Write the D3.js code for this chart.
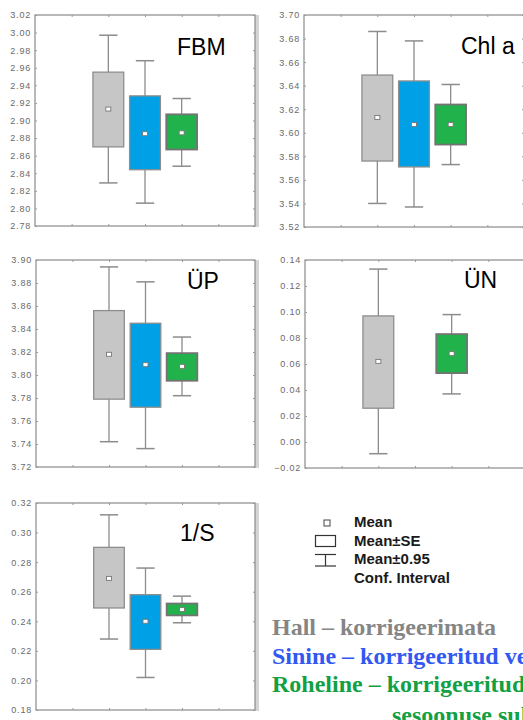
<!DOCTYPE html>
<html>
<head>
<meta charset="utf-8">
<script src="https://cdn.jsdelivr.net/npm/d3@7"></script>
<style>
  body { margin: 0; background: #fff; }
  svg { display: block; }
</style>
</head>
<body>
<svg width="523" height="720"></svg>
<script>
// groups: gray = uncorrected, blue = corrected, green = corrected + seasonality
const groups = ['Hall', 'Sinine', 'Roheline']
const groupColors = ['#c6c6c6', '#00a0e6', '#22b24c']

const panelNames = ['FBM', 'Chl a', 'ÜP', 'ÜN', '1/S']

// mean, mean±SE, mean±0.95 CI  (per group)
const fbmMean = [2.913, 2.885, 2.886]
const fbmSE = [[2.870, 2.955], [2.844, 2.928], [2.867, 2.907]]
const fbmCI = [[2.829, 2.997], [2.806, 2.968], [2.848, 2.925]]

const chlMean = [3.613, 3.607, 3.607]
const chlSE = [[3.576, 3.649], [3.571, 3.644], [3.590, 3.624]]
const chlCI = [[3.540, 3.686], [3.537, 3.678], [3.573, 3.641]]

const upMean = [3.818, 3.809, 3.8075]
const upSE = [[3.779, 3.856], [3.772, 3.845], [3.795, 3.819]]
const upCI = [[3.742, 3.894], [3.736, 3.881], [3.782, 3.833]]

const unMean = [0.062, null, 0.068]
const unSE = [[0.026, 0.097], null, [0.053, 0.083]]
const unCI = [[-0.009, 0.133], null, [0.037, 0.098]]

const sMean = [0.269, 0.240, 0.248]
const sSE = [[0.249, 0.290], [0.221, 0.258], [0.244, 0.252]]
const sCI = [[0.228, 0.312], [0.202, 0.276], [0.239, 0.257]]

// y tick labels
const fbmTicks = [2.78, 2.80, 2.82, 2.84, 2.86, 2.88, 2.90, 2.92, 2.94, 2.96, 2.98, 3.00, 3.02]
const chlTicks = [3.52, 3.54, 3.56, 3.58, 3.60, 3.62, 3.64, 3.66, 3.68, 3.70]
const upTicks = [3.72, 3.74, 3.76, 3.78, 3.80, 3.82, 3.84, 3.86, 3.88, 3.90]
const unTicks = [-0.02, 0.00, 0.02, 0.04, 0.06, 0.08, 0.10, 0.12, 0.14]
const sTicks = [0.18, 0.20, 0.22, 0.24, 0.26, 0.28, 0.30, 0.32]

const legendLabels = ['Mean', 'Mean±SE', 'Mean±0.95', 'Conf. Interval']
const noteLines = [
    { text: 'Hall – korrigeerimata', color: '#858585' },
    { text: 'Sinine – korrigeeritud veetaseme suhtes', color: '#3158f0' },
    { text: 'Roheline – korrigeeritud veetaseme ja', color: '#12a043' },
]
const noteTail = 'sesoonuse suhtes'

const panels = [
    { name: panelNames[0], mean: fbmMean, se: fbmSE, ci: fbmCI, ticks: fbmTicks },
    { name: panelNames[1], mean: chlMean, se: chlSE, ci: chlCI, ticks: chlTicks },
    { name: panelNames[2], mean: upMean, se: upSE, ci: upCI, ticks: upTicks },
    { name: panelNames[3], mean: unMean, se: unSE, ci: unCI, ticks: unTicks },
    { name: panelNames[4], mean: sMean, se: sSE, ci: sCI, ticks: sTicks },
]

// frame placement of each panel
const layout = [
    { x: 35, y: 15, w: 220, h: 211, tx: 142, ty: 40 },
    { x: 304, y: 15, w: 220, h: 212, tx: 157, ty: 39 },
    { x: 36, y: 260, w: 219, h: 207, tx: 151, ty: 29 },
    { x: 305, y: 260, w: 220, h: 208, tx: 159, ty: 28 },
    { x: 36, y: 503, w: 219, h: 207, tx: 144, ty: 38 },
]

const svg = d3.select('svg')
const fmt = d3.format('.2f')

panels.forEach((p, k) => {
    const L = layout[k]
    const g = svg.append('g').attr('transform', `translate(${L.x}, ${L.y})`)

    const x = d3.scaleLinear().domain([0, 6]).range([0, L.w])
    const y = d3.scaleLinear().domain(d3.extent(p.ticks)).range([L.h, 0])

    // shadow on the right
    g.append('rect')
        .attr('x', L.w)
        .attr('y', 0)
        .attr('width', 4)
        .attr('height', L.h + 1)
        .attr('fill', '#d4d4d4')

    g.append('rect')
        .attr('width', L.w)
        .attr('height', L.h)
        .attr('fill', '#fff')
        .attr('stroke', '#8a8a8a')
        .attr('stroke-width', 1.2)

    const yAxis = d3.axisLeft(y)
        .tickValues(p.ticks)
        .tickFormat(fmt)
        .tickSizeInner(-2)
        .tickSizeOuter(0)
        .tickPadding(4)

    const ya = g.append('g').call(yAxis)
    ya.select('.domain').remove()
    ya.selectAll('line').attr('stroke', '#999')
    ya.selectAll('text')
        .attr('fill', '#6a6a6a')
        .style('font-family', '"Liberation Sans", Arial, sans-serif')
        .style('font-size', '9px')
        .style('letter-spacing', '0.8px')

    const xTicks = [1, 2, 3, 4, 5]
    const top = g.append('g').call(d3.axisTop(x).tickValues(xTicks).tickSize(-2).tickFormat(''))
    const bot = g.append('g').attr('transform', `translate(0, ${L.h})`)
        .call(d3.axisBottom(x).tickValues(xTicks).tickSize(-2).tickFormat(''))
    top.select('.domain').remove()
    bot.select('.domain').remove()
    g.selectAll('.tick line').attr('stroke', '#999')

    const rightAxis = g.append('g').attr('transform', `translate(${L.w}, 0)`)
        .call(d3.axisRight(y).tickValues(p.ticks).tickSize(-2).tickFormat(''))
    rightAxis.select('.domain').remove()
    rightAxis.selectAll('line').attr('stroke', '#999')

    const boxW = x(0.84) - x(0)
    const capW = x(0.5) - x(0)

    groups.forEach((grp, i) => {
        if (p.mean[i] == null) return
        const cx = x(i + 2)
        const b = g.append('g').attr('class', 'box')

        // whisker
        b.append('line')
            .attr('x1', cx).attr('x2', cx)
            .attr('y1', y(p.ci[i][1])).attr('y2', y(p.ci[i][0]))
            .attr('stroke', '#8c8c8c').attr('stroke-width', 1.3)
        ;[0, 1].forEach((j) => {
            b.append('line')
                .attr('x1', cx - capW / 2).attr('x2', cx + capW / 2)
                .attr('y1', y(p.ci[i][j])).attr('y2', y(p.ci[i][j]))
                .attr('stroke', '#8c8c8c').attr('stroke-width', 1.5)
        })

        b.append('rect')
            .attr('x', cx - boxW / 2)
            .attr('y', y(p.se[i][1]))
            .attr('width', boxW)
            .attr('height', y(p.se[i][0]) - y(p.se[i][1]))
            .attr('fill', groupColors[i])
            .attr('stroke', i === 2 ? '#737373' : '#8e8e8e')
            .attr('stroke-width', i === 2 ? 1.8 : 1.3)

        b.append('rect')
            .attr('x', cx - 2.5)
            .attr('y', y(p.mean[i]) - 2)
            .attr('width', 5)
            .attr('height', 4)
            .attr('fill', '#fff')
            .attr('stroke', '#777')
            .attr('stroke-width', 0.9)
    })

    g.append('text')
        .attr('x', L.tx)
        .attr('y', L.ty)
        .text(p.name)
        .style('font-family', '"Liberation Sans", Arial, sans-serif')
        .style('font-size', '23px')
        .attr('fill', '#000')
})

// legend
const lg = svg.append('g')
lg.append('rect').attr('x', 324).attr('y', 520).attr('width', 6).attr('height', 6)
    .attr('fill', '#fff').attr('stroke', '#444').attr('stroke-width', 1)
lg.append('rect').attr('x', 315.5).attr('y', 535.5).attr('width', 20).attr('height', 11)
    .attr('fill', '#fff').attr('stroke', '#333').attr('stroke-width', 1.2)
lg.append('line').attr('x1', 315).attr('x2', 336).attr('y1', 554.5).attr('y2', 554.5)
    .attr('stroke', '#333').attr('stroke-width', 1.2)
lg.append('line').attr('x1', 315).attr('x2', 336).attr('y1', 566).attr('y2', 566)
    .attr('stroke', '#333').attr('stroke-width', 1.2)
lg.append('line').attr('x1', 325.5).attr('x2', 325.5).attr('y1', 554.5).attr('y2', 566)
    .attr('stroke', '#333').attr('stroke-width', 1.2)

lg.selectAll('text.legend-label')
    .data(legendLabels)
    .enter()
    .append('text')
    .attr('class', 'legend-label')
    .attr('x', 354)
    .attr('y', (d, i) => 527 + i * 18.5)
    .text((d) => d)
    .style('font-family', '"Liberation Sans", Arial, sans-serif')
    .style('font-size', '15px')
    .style('font-weight', 'bold')
    .attr('fill', '#1a1a1a')

// colour key notes
svg.selectAll('text.note')
    .data(noteLines)
    .enter()
    .append('text')
    .attr('class', 'note')
    .attr('x', 272)
    .attr('y', (d, i) => 635 + i * 28.5)
    .text((d) => d.text)
    .attr('fill', (d) => d.color)
    .style('font-family', '"Liberation Serif", "Times New Roman", serif')
    .style('font-size', '24px')
    .style('font-weight', 'bold')

svg.append('text')
    .attr('x', 392)
    .attr('y', 723)
    .text(noteTail)
    .attr('fill', noteLines[2].color)
    .style('font-family', '"Liberation Serif", "Times New Roman", serif')
    .style('font-size', '24px')
    .style('font-weight', 'bold')
</script>
</body>
</html>
